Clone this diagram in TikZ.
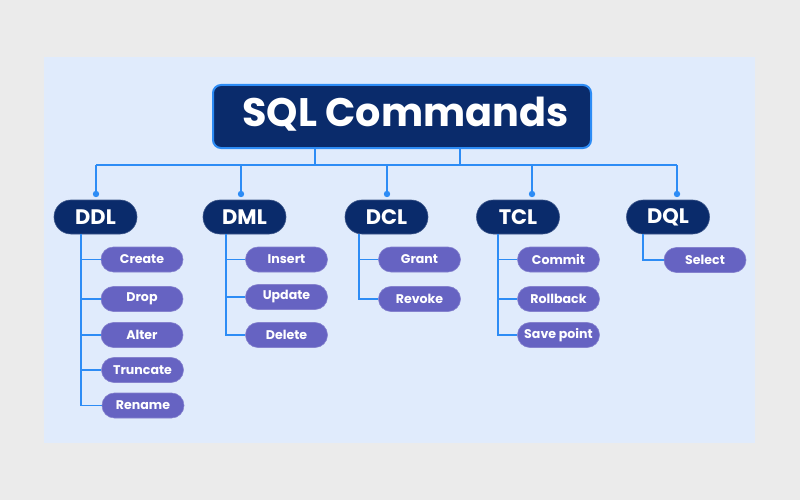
\documentclass[tikz,border=0pt]{standalone}
\usepackage{fontspec}
\setmainfont{Poppins}
\definecolor{bg}{HTML}{EBEBEB}
\definecolor{panel}{HTML}{E0EBFC}
\definecolor{navy}{HTML}{0A2B6B}
\definecolor{purp}{HTML}{6663C2}
\definecolor{lineblue}{HTML}{2D8CF5}
\tikzset{
  titlebox/.style={draw=lineblue, line width=2pt, fill=navy, rounded corners=8pt,
    minimum width=378pt, minimum height=63pt, text=white, inner sep=0pt,
    text height=20.4pt, text depth=0pt,
    font=\fontsize{39.8}{39.8}\selectfont\bfseries},
  catbox/.style={draw=navy!80!white, line width=0.6pt, fill=navy, rounded corners=16.9pt,
    minimum width=83pt, minimum height=34pt, text=white, inner sep=0pt,
    font=\fontsize{21}{21}\selectfont\bfseries},
  itembox/.style={draw=purp!80!white, line width=0.6pt, fill=purp, rounded corners=12.4pt,
    minimum width=82pt, minimum height=25pt, text=white, inner sep=0pt,
    font=\fontsize{12.6}{12.6}\selectfont\bfseries},
  conn/.style={draw=lineblue, line width=1.5pt},
  dotmark/.style={fill=lineblue}
}
\begin{document}
\begin{tikzpicture}[x=1pt,y=-1pt]
\fill[bg] (0,0) rectangle (800,500);
\useasboundingbox (0,0) rectangle (800,500);
\fill[panel] (44,57) rectangle (755,443);

% title
\node[titlebox] (title) at (402,116.5) {\hspace{7pt}SQL Commands};

% categories
\node[catbox] (ddl) at (95.5,217) {DDL};
\node[catbox] (dml) at (244.5,217) {DML};
\node[catbox] (dcl) at (386.5,217) {DCL};
\node[catbox] (tcl) at (518,217) {TCL};
\node[catbox] (dql) at (668,217) {DQL};

% bus coordinates
\coordinate (t1) at (315,165);
\coordinate (t2) at (460,165);
\coordinate (dDDL) at (96,194);
\coordinate (dDML) at (241,194);
\coordinate (dDCL) at (387,194);
\coordinate (dTCL) at (532,194);
\coordinate (dDQL) at (677,194);

\draw[conn] (t1 |- title.south) -- (t1);
\draw[conn] (t2 |- title.south) -- (t2);
\draw[conn] (dDDL |- t1) -- (dDQL |- t1);
\foreach \d in {dDDL,dDML,dDCL,dTCL,dDQL}{
  \draw[conn] (\d |- t1) -- (\d);
  \fill[dotmark] (\d) circle (3.2);
}

% items
\node[itembox] (create)   at (142,259.5) {Create};
\node[itembox] (drop)     at (142,299)   {Drop};
\node[itembox] (alter)    at (142,335)   {Alter};
\node[itembox] (truncate) at (142.5,370) {Truncate};
\node[itembox] (rename)   at (143,405.5) {Rename};

\node[itembox] (insert) at (286.5,259.5) {Insert};
\node[itembox] (update) at (286.5,297)   {Update};
\node[itembox] (delete) at (286.5,335)   {Delete};

\node[itembox] (grant)  at (419.5,259.5) {Grant};
\node[itembox] (revoke) at (419.5,299)   {Revoke};

\node[itembox] (commit)    at (558.5,259.5) {Commit};
\node[itembox] (rollback)  at (558.5,299)   {Rollback};
\node[itembox] (savepoint) at (558.5,335)   {Save point};

\node[itembox] (select) at (705,260) {Select};

% stems
\coordinate (sDDL) at (81,0);
\coordinate (sDML) at (226,0);
\coordinate (sDCL) at (359,0);
\coordinate (sTCL) at (498,0);
\coordinate (sDQL) at (643,0);

\foreach \c in {create,drop,alter,truncate,rename}
  \draw[conn] (sDDL |- ddl.south) |- (\c.west);
\foreach \c in {insert,update,delete}
  \draw[conn] (sDML |- dml.south) |- (\c.west);
\foreach \c in {grant,revoke}
  \draw[conn] (sDCL |- dcl.south) |- (\c.west);
\foreach \c in {commit,rollback,savepoint}
  \draw[conn] (sTCL |- tcl.south) |- (\c.west);
\draw[conn] (sDQL |- dql.south) |- (select.west);
\end{tikzpicture}
\end{document}
